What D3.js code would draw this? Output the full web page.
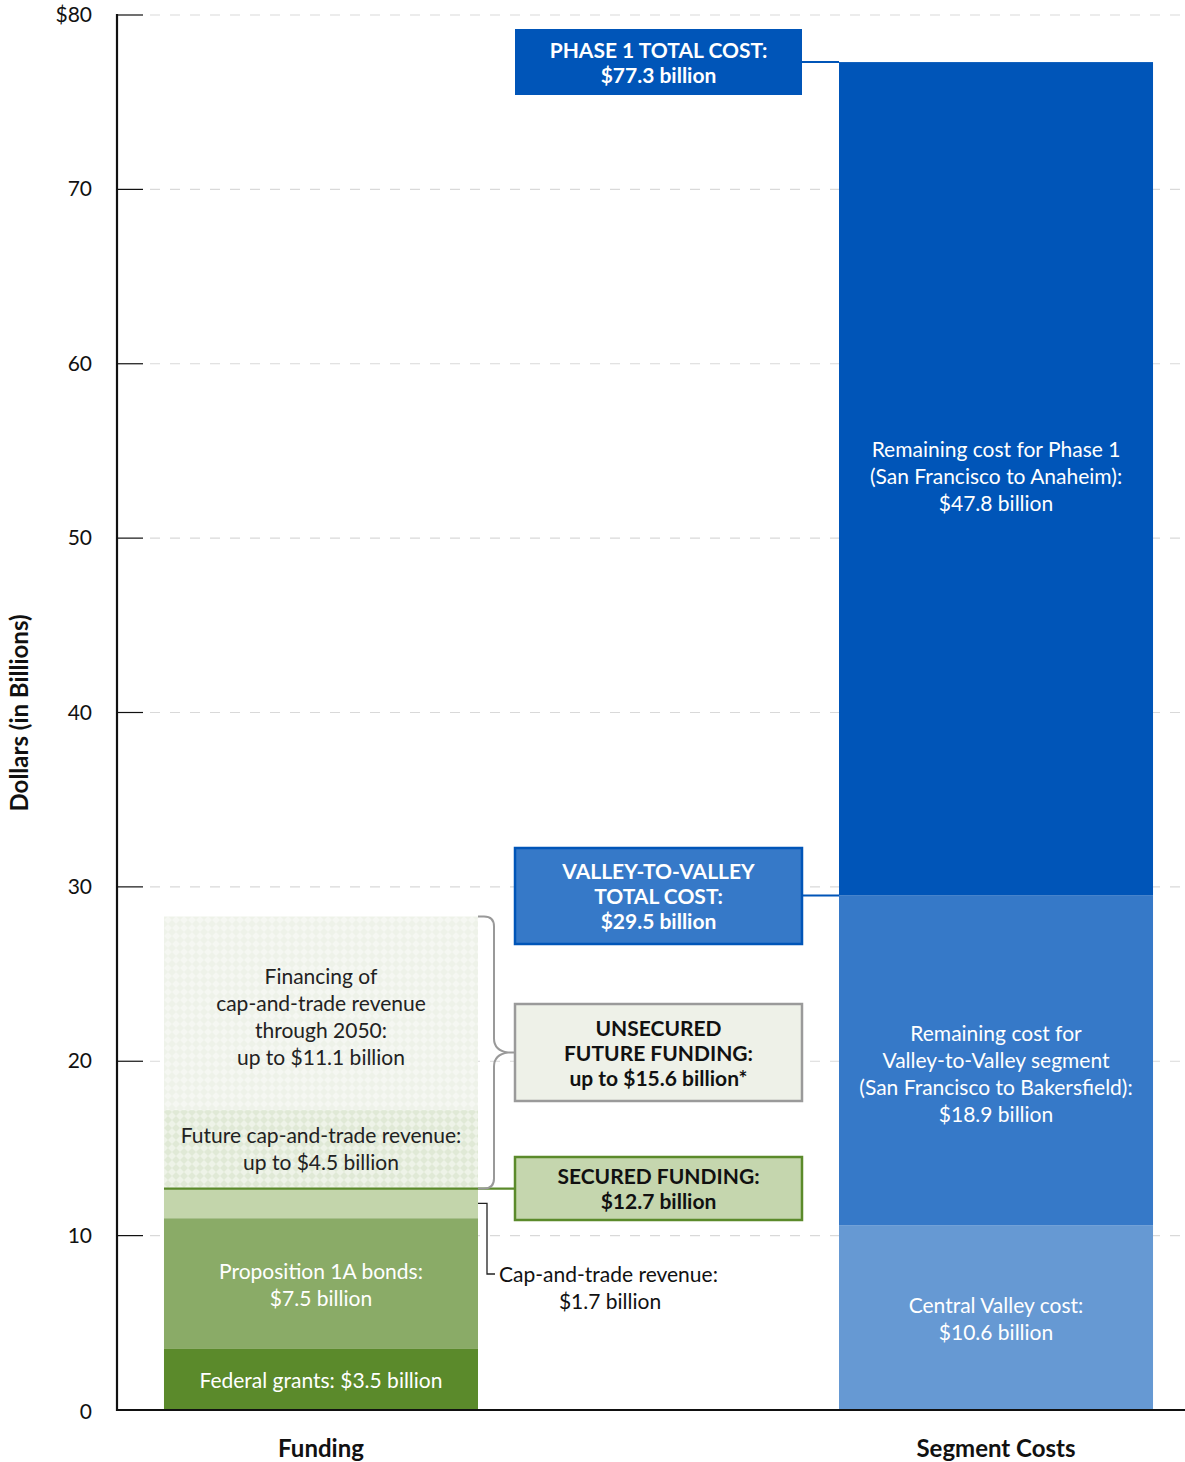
<!DOCTYPE html>
<html><head><meta charset="utf-8">
<script src="https://cdn.jsdelivr.net/npm/d3@7"></script>
<style>body{margin:0;background:#fff}svg{display:block}text{font-family:Lato,"Open Sans",sans-serif}</style>
</head><body><svg id="c" width="1185" height="1462"></svg>
<script>
const categories = ["Funding", "Segment Costs"];
const fundingLabels = [["Federal grants: $3.5 billion"], ["Proposition 1A bonds:", "$7.5 billion"], [""], ["Future cap-and-trade revenue:", "up to $4.5 billion"], ["Financing of", "cap-and-trade revenue", "through 2050:", "up to $11.1 billion"]];
const fundingValues = [3.5, 7.5, 1.7, 4.5, 11.1];
const costLabels = [["Central Valley cost:", "$10.6 billion"], ["Remaining cost for", "Valley-to-Valley segment", "(San Francisco to Bakersfield):", "$18.9 billion"], ["Remaining cost for Phase 1", "(San Francisco to Anaheim):", "$47.8 billion"]];
const costValues = [10.6, 18.9, 47.8];
const yTicks = [0, 10, 20, 30, 40, 50, 60, 70, 80];

const svg = d3.select("#c");
const y = d3.scaleLinear().domain([0, 80]).range([1410, 15]);
const x = d3.scaleBand().domain(categories).range([117, 1200]).paddingInner(0.5348).paddingOuter(0.0696);

// patterns
const defs = svg.append("defs");
function pat(id, bg, fg) {
  const p = defs.append("pattern").attr("id", id).attr("width", 8).attr("height", 8).attr("patternUnits", "userSpaceOnUse");
  p.append("rect").attr("width", 8).attr("height", 8).attr("fill", bg);
  p.append("path").attr("d", "M4,0L8,4L4,8L0,4Z").attr("fill", fg);
}
pat("p1", "#f5f7f2", "#eef2e9");
pat("p2", "#e0e9d6", "#eef3e8");

const fundColors = ["#5b8a2b", "#8aab67", "#c3d5ab", "url(#p2)", "url(#p1)"];
const fundText = ["#fff", "#fff", "#222", "#222", "#222"];
const costColors = ["#6699d3", "#3679c8", "#0055b8"];

// gridlines
svg.append("g").selectAll("line").data(yTicks.filter(d => d > 0)).join("line")
  .attr("x1", 150).attr("x2", 1185).attr("y1", d => y(d)).attr("y2", d => y(d))
  .attr("stroke", "#d9d9d9").attr("stroke-width", 1.2).attr("stroke-dasharray", "10,10");

function stack(vals) { let c = 0; return vals.map(v => { const r = [c, c + v]; c += v; return r; }); }
const fs = stack(fundingValues), cs = stack(costValues);

function drawBars(cat, st, colors, labels, tcol, offs) {
  const g = svg.append("g");
  const bx = x(cat), bw = x.bandwidth();
  st.forEach((s, i) => {
    g.append("rect").attr("x", bx).attr("width", bw).attr("y", y(s[1])).attr("height", y(s[0]) - y(s[1])).attr("fill", colors[i]);
  });
  st.forEach((s, i) => {
    const lines = labels[i].filter(l => l);
    if (!lines.length) return;
    const cy = (y(s[0]) + y(s[1])) / 2 + (offs ? offs[i] : 0);
    const t = g.append("text").attr("text-anchor", "middle").attr("font-size", 21).attr("fill", tcol[i]);
    lines.forEach((l, j) => t.append("tspan").attr("x", bx + bw / 2).attr("y", cy + (j - (lines.length - 1) / 2) * 27 + 7).text(l));
  });
}
drawBars("Funding", fs, fundColors, fundingLabels, fundText, [2, 2, 0, 0, 4]);
drawBars("Segment Costs", cs, costColors, costLabels, ["#fff", "#fff", "#fff"], [2, 14, -2]);

// axis
const ax = svg.append("g");
ax.append("line").attr("x1", 117).attr("x2", 117).attr("y1", 14).attr("y2", 1411).attr("stroke", "#111").attr("stroke-width", 2.2);
ax.append("line").attr("x1", 116).attr("x2", 1185).attr("y1", 1410).attr("y2", 1410).attr("stroke", "#111").attr("stroke-width", 2.2);
ax.selectAll(".tk").data(yTicks.filter(d => d > 0)).join("line")
  .attr("x1", 117).attr("x2", 143).attr("y1", d => y(d)).attr("y2", d => y(d)).attr("stroke", "#111").attr("stroke-width", 1.2);
ax.selectAll(".tl").data(yTicks).join("text")
  .attr("x", 92).attr("y", d => d === 0 ? y(d) + 9 : y(d) + 7).attr("text-anchor", "end").attr("font-size", 21).attr("fill", "#111")
  .text(d => d === 80 ? "$80" : d);
svg.append("text").attr("transform", "translate(28,713) rotate(-90)").attr("text-anchor", "middle").attr("font-size", 24).attr("font-weight", "bold").attr("fill", "#111").text("Dollars (in Billions)");
svg.selectAll(".cat").data(categories).join("text").attr("x", d => x(d) + x.bandwidth() / 2).attr("y", 1457)
  .attr("text-anchor", "middle").attr("font-size", 24).attr("font-weight", "bold").attr("fill", "#111").text(d => d);

// annotation boxes
const boxX = 515, boxW = 287;
function box(y0, h, fill, stroke, sw, col, lines) {
  svg.append("rect").attr("x", boxX).attr("y", y0).attr("width", boxW).attr("height", h).attr("fill", fill).attr("stroke", stroke).attr("stroke-width", sw);
  const t = svg.append("text").attr("text-anchor", "middle").attr("font-size", 21).attr("font-weight", "bold").attr("fill", col);
  lines.forEach((l, j) => t.append("tspan").attr("x", boxX + boxW / 2).attr("y", y0 + h / 2 + (j - (lines.length - 1) / 2) * 25 + 8).text(l));
}
const totalPhase1 = d3.sum(costValues), totalV2V = costValues[0] + costValues[1];
const secured = fundingValues[0] + fundingValues[1] + fundingValues[2];
const unsecured = fundingValues[3] + fundingValues[4];
const cx = x("Segment Costs"), fx = x("Funding") + x.bandwidth();

// connector lines
svg.append("line").attr("x1", 802).attr("x2", cx).attr("y1", y(totalPhase1)).attr("y2", y(totalPhase1)).attr("stroke", "#0055b8").attr("stroke-width", 2);
svg.append("line").attr("x1", 802).attr("x2", cx).attr("y1", y(totalV2V)).attr("y2", y(totalV2V)).attr("stroke", "#0055b8").attr("stroke-width", 2);
svg.append("line").attr("x1", x("Funding")).attr("x2", boxX).attr("y1", y(secured)).attr("y2", y(secured)).attr("stroke", "#5b8a2b").attr("stroke-width", 2.2);

box(29, 66, "#0055b8", "#0055b8", 0, "#fff", ["PHASE 1 TOTAL COST:", "$77.3 billion"]);
box(848, 96, "#3679c8", "#0055b8", 2.5, "#fff", ["VALLEY-TO-VALLEY", "TOTAL COST:", "$29.5 billion"]);
box(1004, 97, "#eef1e8", "#9a9a9a", 2.5, "#111", ["UNSECURED", "FUTURE FUNDING:", "up to $15.6 billion*"]);
box(1157, 63, "#c5d6ae", "#5b8a2b", 2.5, "#111", ["SECURED FUNDING:", "$12.7 billion"]);

// brace
const bt = y(secured + unsecured), bb = y(secured), bm = (bt + bb) / 2;
svg.append("path").attr("fill", "none").attr("stroke", "#999").attr("stroke-width", 2)
  .attr("d", `M${fx},${bt} L${fx + 6},${bt} Q${fx + 16},${bt} ${fx + 16},${bt + 10} L${fx + 16},${bm - 14} Q${fx + 16},${bm - 2} ${fx + 30},${bm} L${boxX},${bm} M${fx + 30},${bm} Q${fx + 16},${bm + 2} ${fx + 16},${bm + 14} L${fx + 16},${bb - 10} Q${fx + 16},${bb} ${fx + 6},${bb} L${fx},${bb}`);

// cap-and-trade bracket
const ct = (y(fundingValues[0] + fundingValues[1]) + y(secured)) / 2;
svg.append("path").attr("fill", "none").attr("stroke", "#222").attr("stroke-width", 1.3)
  .attr("d", `M${fx},${ct} L${fx + 9},${ct} L${fx + 9},${1274} L${fx + 17},${1274}`);
const ctt = svg.append("text").attr("font-size", 21).attr("fill", "#111");
ctt.append("tspan").attr("x", 499).attr("y", 1282).text("Cap-and-trade revenue:");
ctt.append("tspan").attr("x", 610).attr("y", 1309).attr("text-anchor", "middle").text("$1.7 billion");
</script></body></html>
